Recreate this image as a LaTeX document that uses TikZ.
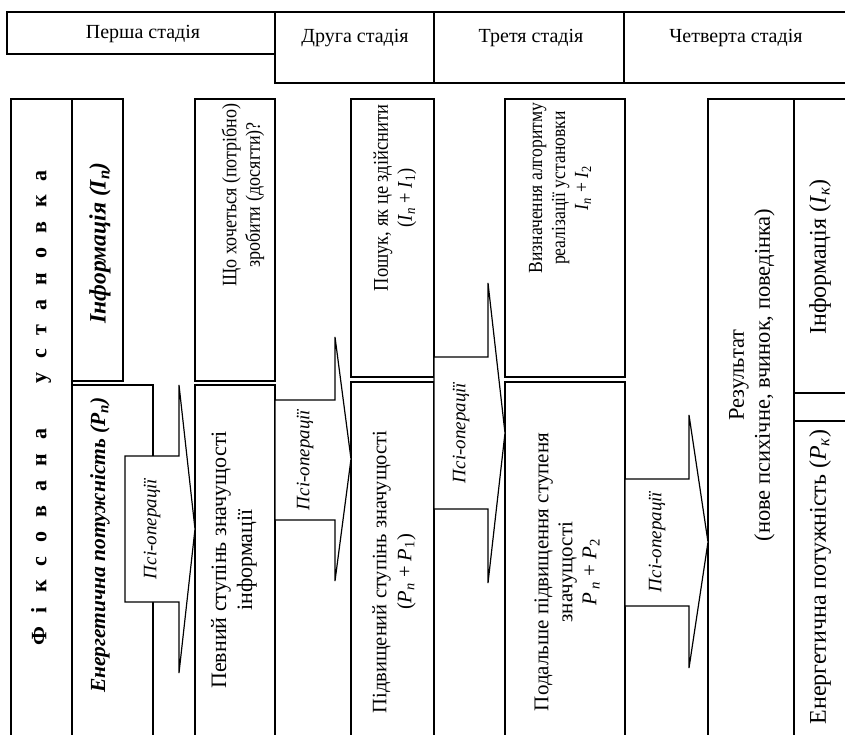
\documentclass[tikz,border=0pt]{standalone}
\usepackage{fontspec}
\setmainfont{Liberation Serif}
\newfontfamily\condfont[FakeStretch=0.88]{Liberation Serif}
\newcommand\gp{\hspace{14pt}}
\newcommand\sbx[1]{\textsubscript{#1}}
\newcommand\fsz[2]{\fontsize{#1}{#2}\selectfont}
\begin{document}
\begin{tikzpicture}[x=1pt,y=-1pt,
  box/.style={draw, line width=1.2pt},
  lab/.style={rotate=90, align=center, font=\fsz{19}{23}, inner sep=0pt},
  hdr/.style={font=\fsz{20}{24}, inner sep=0pt},
  psi/.style={draw, fill=white, line width=1.2pt, line join=miter},
  psil/.style={rotate=90, font=\fsz{19}{23}\itshape, inner sep=0pt}]
\useasboundingbox (0,0) rectangle (845,735);
\clip (0,0) rectangle (845,735);
\fill[white] (0,0) rectangle (845,735);
% header
\draw[box] (7,12) rectangle (275,54);
\draw[box] (275,12) rectangle (860,83);
\draw[box] (434,12) -- (434,83);
\draw[box] (624,12) -- (624,83);
\node[hdr] (h1) at (143,34) {Перша стадія};
\node[hdr] (h2) at (355,38) {Друга стадія};
\node[hdr] (h3) at (531,38) {Третя стадія};
\node[hdr] (h4) at (736,38) {Четверта стадія};
% columns
\draw[box] (11,99) rectangle (72,760);
\draw[box] (72,99) rectangle (123,381);
\draw[box] (72,385) rectangle (153,760);
\draw[box] (195,99) rectangle (275,381);
\draw[box] (195,385) rectangle (275,760);
\draw[box] (351,99) rectangle (434,377);
\draw[box] (351,382) rectangle (434,760);
\draw[box] (505,99) rectangle (625,377);
\draw[box] (505,382) rectangle (625,760);
\draw[box] (708,99) rectangle (794,760);
\draw[box] (794,99) rectangle (860,393);
\draw[box] (794,421) rectangle (860,760);
% arrows
\draw[psi] (125,456) -- (179,456) -- (179,385) -- (195,529) -- (179,673) -- (179,602) -- (125,602) -- cycle;
\draw[psi] (275,400) -- (335,400) -- (335,337) -- (351,459) -- (335,581) -- (335,520) -- (275,520) -- cycle;
\draw[psi] (434,357) -- (488,357) -- (488,283) -- (505,433) -- (488,583) -- (488,509) -- (434,509) -- cycle;
\draw[psi] (625,479) -- (689,479) -- (689,415) -- (708,542) -- (689,668) -- (689,606) -- (625,606) -- cycle;
\node[psil] (p1) at (152,529) {Псі-операції};
\node[psil] (p2) at (305,460) {Псі-операції};
\node[psil] (p3) at (461,433) {Псі-операції};
\node[psil] (p4) at (657,542) {Псі-операції};
% texts
\node[lab, font=\fsz{22}{26}\bfseries] (t0) at (41,408)
  {Ф\gp і\gp к\gp с\gp о\gp в\gp а\gp н\gp а\hspace{45pt}у\gp с\gp т\gp а\gp н\gp о\gp в\gp к\gp а};
\node[lab, font=\fsz{23.5}{27}\bfseries\itshape] (t1) at (100,243) {Інформація (I\sbx{n})};
\node[lab, font=\fsz{21.5}{25}\bfseries\itshape] (t2) at (100,545) {Енергетична потужність (P\sbx{n})};
\node[lab, font=\condfont\fsz{20.5}{23.5}] (t3) at (243,195) {Що хочеться (потрібно)\\ зробити (досягти)?};
\node[lab, font=\fsz{22}{26}] (t4) at (234,560) {Певний ступінь значущості\\ інформації};
\node[lab, font=\condfont\fsz{21}{24}] (t5) at (395,198) {Пошук, як це здійснити\\ (\textit{I}\sbx{\textit{n}} + \textit{I}\sbx{1})};
\node[lab, font=\fsz{20.5}{25}] (t6) at (394,572) {Підвищений ступінь значущості\\ (\textit{P}\sbx{\textit{n}} + \textit{P}\sbx{1})};
\node[lab, font=\condfont\fsz{20}{23}] (t7) at (560,188) {Визначення алгоритму\\ реалізації установки\\ \textit{I}\sbx{\textit{n}} + \textit{I}\sbx{2}};
\node[lab, font=\fsz{21}{24}] (t8) at (567,572) {Подальше підвищення ступеня\\ значущості\\ \textit{P}\,\sbx{\textit{n}} + \textit{P}\sbx{2}};
\node[lab, font=\fsz{22.5}{26}] (t9) at (752,375) {Результат\\ (нове психічне, вчинок, поведінка)};
\node[lab, font=\fsz{24}{28}] (t10) at (820,257) {Інформація (\textit{I}\sbx{\textit{к}})};
\node[lab, font=\fsz{24}{28}] (t11) at (820,577) {Енергетична потужність (\textit{P}\sbx{\textit{к}})};
\end{tikzpicture}
\end{document}
